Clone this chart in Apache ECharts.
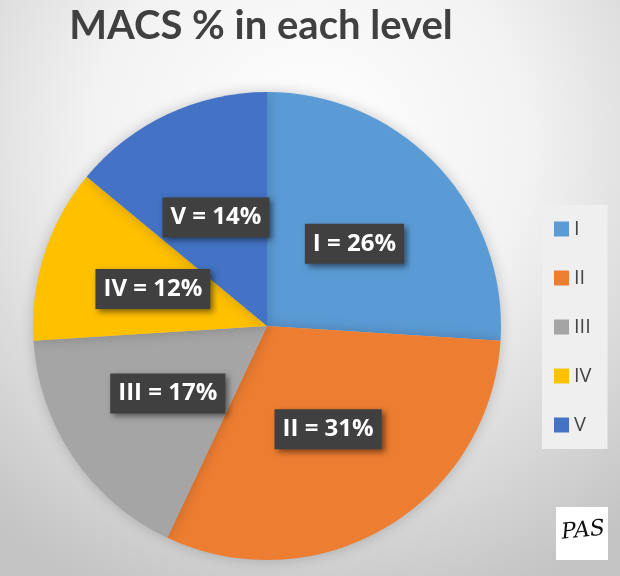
<!DOCTYPE html>
<html><head><meta charset="utf-8">
<script src="https://cdn.jsdelivr.net/npm/echarts@6/dist/echarts.min.js"></script>
<style>html,body{margin:0;padding:0;}#c{width:620px;height:576px;}</style>
</head><body><div id="c"></div>
<script>
const categories = ['I', 'II', 'III', 'IV', 'V'];
const values = [26, 31, 17, 12, 14];
const colors = ['#5B9BD5', '#ED7D31', '#A5A5A5', '#FFC000', '#4472C4'];
const titleText = 'MACS % in each level';

const chart = echarts.init(document.getElementById('c'));
chart.setOption({
  backgroundColor: {type:'radial', x:0.5, y:0.25, r:0.85,
    colorStops:[{offset:0,color:'#ffffff'},{offset:0.45,color:'#f2f2f2'},{offset:1,color:'#c4c4c4'}]},
  legend: {orient:'vertical', left: 542, top: 205, itemGap: 29, itemWidth: 15, itemHeight: 15,
    icon:'rect', backgroundColor:'#efefef', padding:[14,16,14,12],
    textStyle:{fontFamily:'Open Sans', fontSize:20, color:'#454545'}},
  graphic: [
    {type:'text', x:261, y:6, style:{text:titleText, textAlign:'center',
      font:'bold 40px Lato', fill:'#404040'}},
    {type:'rect', left:556, top:507, shape:{width:52, height:53}, style:{fill:'#ffffff'}},
    {type:'text', x:582, y:520, rotation:0.1, style:{text:'PAS', textAlign:'center',
      font:'italic 22px "DejaVu Serif"', fill:'#111'}}
  ],
  series: [{
    type:'pie', center:[267,326], radius:234, startAngle:90, clockwise:true,
    data: categories.map((c,i)=>({name:c, value:values[i], itemStyle:{color:colors[i]}})),
    itemStyle:{shadowBlur:14, shadowColor:'rgba(0,0,0,0.2)'},
    label:{position:'inside', formatter:p=>p.name+' = '+p.value+'%', color:'#fff',
      fontFamily:'Open Sans', fontWeight:'bold', fontSize:24, backgroundColor:'#404040',
      padding:[8,8,8,8], shadowBlur:6, shadowColor:'rgba(0,0,0,0.5)', shadowOffsetX:3, shadowOffsetY:3},
    labelLine:{show:false}, emphasis:{disabled:true}, silent:true
  }]
});
</script></body></html>
